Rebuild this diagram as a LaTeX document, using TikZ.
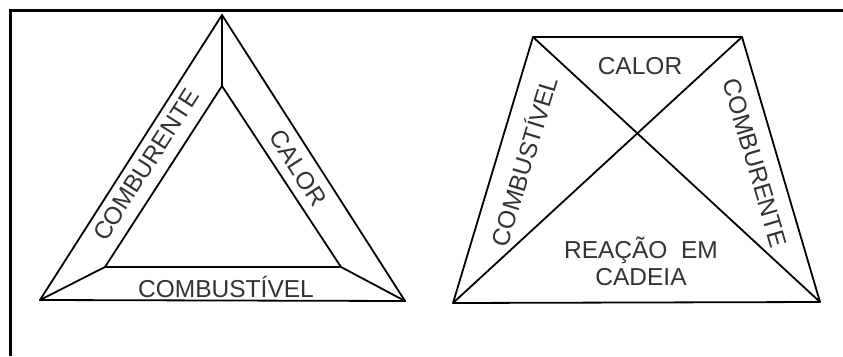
\documentclass[tikz,border=0pt]{standalone}
\usepackage{fontspec}
\setmainfont{Liberation Sans}

\begin{document}
\begin{tikzpicture}[x=1pt, y=-1pt,
  edge/.style={line width=1.8pt, line join=round, line cap=round},
  frameline/.style={line width=2.8pt},
  lbl/.style={font=\fontsize{24.5}{27}\selectfont, text=black!80, inner sep=0pt, align=center}
]
\useasboundingbox (0,0) rectangle (843,356);
% Frame
\coordinate (fr) at (843,10.7);
\coordinate (fc) at (10.7,10.7);
\coordinate (fb) at (10.7,356);
\draw[frameline] (fr) -- (fc) -- (fb);
% Triangle corners (outer)
\coordinate (tA) at (222,15);
\coordinate (tL) at (40,300);
\coordinate (tR) at (405,301);
% Triangle corners (inner)
\coordinate (iA) at (222,86);
\coordinate (iL) at (105,267);
\coordinate (iR) at (341,267);
\draw[edge] (tA) -- (tL) -- (tR) -- cycle;
\draw[edge] (iA) -- (iL) -- (iR) -- cycle;
\draw[edge] (tA) -- (iA);
\draw[edge] (tL) -- (iL);
\draw[edge] (tR) -- (iR);
\node[lbl, rotate=57.4] (comburente1) at (146,165) {COMBURENTE};
\node[lbl, rotate=-57.4] (calor1) at (298,168) {CALOR};
\node[lbl] (combustivel1) at (226,287) {COMBUSTÍVEL};
% Tetrahedron (trapezium with diagonals)
\coordinate (qTL) at (533,37);
\coordinate (qTR) at (742,37);
\coordinate (qBL) at (453,303);
\coordinate (qBR) at (820,302);
\draw[edge] (qTL) -- (qTR) -- (qBR) -- (qBL) -- cycle;
\draw[edge] (qTL) -- (qBR);
\draw[edge] (qTR) -- (qBL);
\node[lbl] (calor2) at (640,66) {CALOR};
\node[lbl, rotate=73] (combustivel2) at (523,161) {COMBUSTÍVEL};
\node[lbl, rotate=-73.6] (comburente2) at (755,163) {COMBURENTE};
\node[lbl] (reacao) at (641,261) {REAÇÃO\ \ EM\\CADEIA};
\end{tikzpicture}
\end{document}
